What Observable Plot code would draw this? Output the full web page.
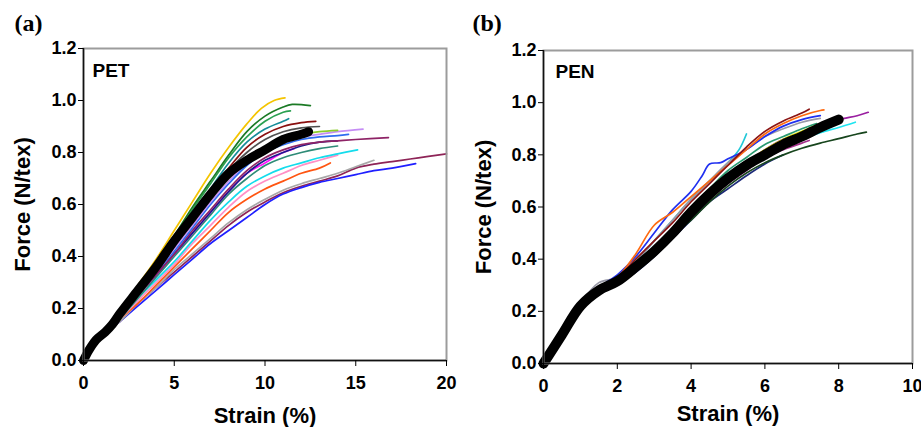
<!DOCTYPE html>
<html>
<head>
<meta charset="utf-8">
<script src="https://cdn.jsdelivr.net/npm/d3@7"></script>
<script src="https://cdn.jsdelivr.net/npm/@observablehq/plot@0.6"></script>
<style>
  body { margin: 0; background: #fff; }
  #wrap { position: relative; width: 921px; height: 427px; }
  #a { position: absolute; left: 0; top: 0; }
  #b { position: absolute; left: 460px; top: 0; }
</style>
</head>
<body>
<div id="wrap"><div id="a"></div><div id="b"></div></div>
<script>
// ---------- Panel (a) PET : [strain %, force N/tex] ----------
const petYellow = [[0,0],[0.3,0.04],[0.7,0.08],[1.2,0.11],[1.6,0.15],[2,0.19],[3,0.29],[4,0.39],[5,0.50],[6,0.61],[7,0.72],[8,0.82],[9,0.91],[9.8,0.97],[10.5,1.0],[11.1,1.01]];
const petDarkGreen = [[0,0],[0.3,0.04],[0.7,0.08],[1.2,0.11],[1.6,0.14],[2,0.18],[3,0.28],[4,0.38],[5,0.48],[6,0.59],[7,0.69],[8,0.79],[9,0.88],[10,0.94],[11,0.975],[11.5,0.985],[12.5,0.98]];
const petGreen = [[0,0],[0.3,0.04],[0.7,0.08],[1.2,0.11],[1.6,0.14],[2,0.18],[3,0.28],[4,0.37],[5,0.47],[6,0.58],[7,0.68],[8,0.78],[9,0.86],[10,0.92],[11,0.955],[11.4,0.96]];
const petTeal = [[0,0],[0.3,0.04],[0.7,0.08],[1.2,0.11],[1.6,0.14],[2,0.18],[3,0.27],[4,0.37],[5,0.46],[6,0.56],[7,0.66],[8,0.76],[9,0.84],[10,0.89],[11,0.92],[11.3,0.93]];
const petDarkRed = [[0,0],[0.3,0.04],[0.7,0.08],[1.2,0.11],[1.6,0.14],[2,0.18],[3,0.27],[4,0.36],[5,0.46],[6,0.55],[7,0.65],[8,0.74],[9,0.82],[10,0.87],[11,0.90],[12,0.915],[12.8,0.92]];
const petDarkGray = [[0,0],[0.3,0.04],[0.7,0.08],[1.2,0.11],[1.6,0.14],[2,0.18],[3,0.27],[4,0.36],[5,0.45],[6,0.55],[7,0.64],[8,0.73],[9,0.80],[10,0.85],[11,0.88],[12,0.895],[13,0.90]];
const petYellowGreen = [[0,0],[0.3,0.04],[0.7,0.08],[1.2,0.11],[1.6,0.14],[2,0.18],[3,0.27],[4,0.35],[5,0.44],[6,0.53],[7,0.62],[8,0.70],[9,0.77],[10,0.82],[11,0.85],[12,0.87],[13,0.88],[14,0.885]];
const petViolet = [[0,0],[0.3,0.04],[0.7,0.08],[1.2,0.11],[1.6,0.14],[2,0.17],[3,0.26],[4,0.34],[5,0.43],[6,0.52],[7,0.61],[8,0.69],[9,0.76],[10,0.81],[11,0.84],[12,0.86],[13,0.87],[14,0.88],[15.4,0.89]];
const petRoyalBlue = [[0,0],[0.3,0.04],[0.7,0.08],[1.2,0.11],[1.6,0.14],[2,0.17],[3,0.26],[4,0.34],[5,0.42],[6,0.51],[7,0.60],[8,0.68],[9,0.75],[10,0.80],[11,0.83],[12,0.85],[13,0.86],[14,0.865],[14.6,0.87]];
const petPlum = [[0,0],[0.3,0.04],[0.7,0.08],[1.2,0.11],[1.6,0.14],[2,0.17],[3,0.25],[4,0.33],[5,0.41],[6,0.50],[7,0.58],[8,0.66],[9,0.73],[10,0.78],[11,0.81],[12,0.83],[13,0.84],[14,0.845],[15,0.85],[16.8,0.857]];
const petNavy = [[0,0],[0.3,0.04],[0.7,0.08],[1.2,0.11],[1.6,0.14],[2,0.17],[3,0.25],[4,0.33],[5,0.41],[6,0.49],[7,0.57],[8,0.65],[9,0.72],[10,0.77],[11,0.80],[12,0.825],[13,0.84],[14,0.845]];
const petSeaGreen = [[0,0],[0.3,0.04],[0.7,0.08],[1.2,0.11],[1.6,0.13],[2,0.16],[3,0.24],[4,0.32],[5,0.40],[6,0.48],[7,0.56],[8,0.64],[9,0.70],[10,0.75],[11,0.78],[12,0.80],[13,0.815],[14,0.825]];
const petMagenta = [[0,0],[0.3,0.04],[0.7,0.08],[1.2,0.11],[1.6,0.14],[2,0.17],[3,0.25],[4,0.33],[5,0.41],[6,0.49],[7,0.57],[8,0.65],[9,0.72],[10,0.76],[11,0.80],[11.6,0.815]];
const petCyan = [[0,0],[0.3,0.04],[0.7,0.08],[1.2,0.11],[1.6,0.13],[2,0.16],[3,0.24],[4,0.31],[5,0.38],[6,0.46],[7,0.54],[8,0.61],[9,0.67],[10,0.71],[11,0.74],[12,0.76],[13,0.78],[14,0.795],[15.1,0.81]];
const petPink = [[0,0],[0.3,0.04],[0.7,0.08],[1.2,0.11],[1.6,0.13],[2,0.16],[3,0.23],[4,0.30],[5,0.37],[6,0.45],[7,0.52],[8,0.59],[9,0.65],[10,0.69],[11,0.72],[12,0.75],[13,0.77],[14,0.79]];
const petOrange = [[0,0],[0.3,0.04],[0.7,0.08],[1.2,0.11],[1.6,0.13],[2,0.16],[3,0.22],[4,0.29],[5,0.36],[6,0.43],[7,0.50],[8,0.57],[9,0.62],[10,0.66],[11,0.69],[12,0.72],[13,0.74],[13.6,0.76]];
const petLightGray = [[0,0],[0.3,0.04],[0.7,0.08],[1.2,0.11],[1.6,0.13],[2,0.15],[3,0.22],[4,0.28],[5,0.35],[6,0.41],[7,0.47],[8,0.53],[9,0.58],[10,0.62],[11,0.655],[12,0.68],[13,0.70],[14,0.72],[15,0.745],[16,0.77]];
const petMaroon = [[0,0],[0.3,0.04],[0.7,0.08],[1.2,0.11],[1.6,0.13],[2,0.15],[3,0.22],[4,0.28],[5,0.34],[6,0.40],[7,0.46],[8,0.52],[9,0.57],[10,0.61],[11,0.645],[12,0.67],[13,0.69],[14,0.71],[15,0.74],[16,0.755],[17,0.765],[18,0.775],[19,0.785],[20,0.795]];
const petBlue = [[0,0],[0.3,0.04],[0.7,0.08],[1.2,0.10],[1.6,0.13],[2,0.15],[3,0.21],[4,0.27],[5,0.33],[6,0.39],[7,0.45],[8,0.50],[9,0.55],[10,0.60],[11,0.64],[12,0.665],[13,0.685],[14,0.70],[15,0.715],[16,0.73],[17,0.74],[18.3,0.757]];
const petBlack = [[0,0],[0.3,0.04],[0.7,0.08],[1.2,0.11],[1.6,0.14],[2,0.18],[3,0.27],[4,0.36],[5,0.46],[6,0.55],[7,0.64],[8,0.72],[9,0.77],[10,0.81],[11,0.85],[12,0.87],[12.4,0.88]];

// ---------- Panel (b) PEN ----------
const penDarkRed = [[0,0],[0.5,0.11],[1,0.22],[1.5,0.29],[2,0.33],[2.5,0.40],[3,0.47],[3.5,0.54],[4,0.62],[4.5,0.69],[5,0.76],[5.5,0.83],[6,0.89],[6.5,0.93],[7,0.96],[7.2,0.975]];
const penOrange = [[0,0],[0.5,0.11],[1,0.22],[1.5,0.29],[2,0.33],[2.5,0.42],[3,0.53],[3.5,0.58],[4,0.64],[4.5,0.70],[5,0.76],[5.5,0.82],[6,0.88],[6.5,0.92],[7,0.95],[7.5,0.97],[7.6,0.972]];
const penBlue = [[0,0],[0.5,0.11],[1,0.22],[1.5,0.29],[2,0.34],[2.5,0.41],[3,0.50],[3.5,0.59],[4,0.66],[4.3,0.72],[4.5,0.765],[4.8,0.77],[5,0.785],[5.5,0.82],[6,0.87],[6.5,0.91],[7,0.935],[7.5,0.95]];
const penGray = [[0,0],[0.5,0.11],[1,0.23],[1.5,0.31],[2,0.33],[2.5,0.39],[3,0.47],[3.5,0.55],[4,0.63],[4.5,0.70],[5,0.77],[5.5,0.82],[6,0.87],[6.5,0.90],[7,0.925],[7.5,0.94]];
const penCyanShort = [[0,0],[0.5,0.11],[1,0.22],[1.5,0.29],[2,0.32],[2.5,0.39],[3,0.47],[3.5,0.55],[4,0.63],[4.5,0.70],[5,0.77],[5.3,0.82],[5.5,0.88]];
const penPurple = [[0,0],[0.5,0.11],[1,0.22],[1.5,0.29],[2,0.32],[2.5,0.38],[3,0.44],[3.5,0.51],[4,0.58],[4.5,0.65],[5,0.71],[5.5,0.77],[6,0.82],[6.5,0.86],[7,0.88],[7.5,0.91],[8,0.935],[8.5,0.95],[8.8,0.963]];
const penYellow = [[0,0],[0.5,0.11],[1,0.22],[1.5,0.29],[2,0.32],[2.5,0.38],[3,0.44],[3.5,0.51],[4,0.59],[4.5,0.66],[5,0.72],[5.5,0.77],[6,0.82],[6.5,0.86],[7,0.89],[7.5,0.92],[8,0.945]];
const penCyan = [[0,0],[0.5,0.11],[1,0.22],[1.5,0.29],[2,0.32],[2.5,0.37],[3,0.43],[3.5,0.50],[4,0.57],[4.5,0.64],[5,0.70],[5.5,0.75],[6,0.80],[6.5,0.83],[7,0.86],[7.5,0.885],[8,0.905],[8.45,0.925]];
const penDarkGreen = [[0,0],[0.5,0.11],[1,0.22],[1.5,0.28],[2,0.31],[2.5,0.36],[3,0.42],[3.5,0.49],[4,0.55],[4.5,0.62],[5,0.68],[5.5,0.73],[6,0.77],[6.5,0.80],[7,0.825],[7.5,0.845],[8,0.862],[8.5,0.88],[8.75,0.887]];
const penNavy = [[0,0],[0.5,0.11],[1,0.22],[1.5,0.28],[2,0.31],[2.5,0.35],[3,0.41],[3.5,0.48],[4,0.55],[4.5,0.62],[5,0.67],[5.5,0.72],[6,0.765],[6.5,0.80]];
const penMagenta = [[0,0],[0.5,0.11],[1,0.22],[1.5,0.28],[2,0.31],[2.5,0.36],[3,0.42],[3.5,0.49],[4,0.56],[4.5,0.63],[5,0.69],[5.5,0.74],[6,0.79],[6.5,0.82],[7,0.845],[7.2,0.855]];
const penYellowLow = [[0,0],[0.5,0.11],[1,0.22],[1.5,0.28],[2,0.31],[2.5,0.36],[3,0.42],[3.5,0.49],[4,0.56],[4.5,0.64],[5,0.71],[5.5,0.76],[6,0.80],[6.6,0.84]];
const penTeal = [[0,0],[0.5,0.11],[1,0.22],[1.5,0.28],[2,0.31],[2.5,0.37],[3,0.44],[3.5,0.52],[4,0.60],[4.5,0.67],[5,0.74],[5.5,0.79],[6,0.84],[6.5,0.87],[7,0.90],[7.4,0.92]];
const penBlack = [[0,0],[0.5,0.11],[1,0.22],[1.5,0.28],[2,0.315],[2.5,0.37],[3,0.43],[3.5,0.50],[4,0.58],[4.5,0.65],[5,0.71],[5.5,0.76],[6,0.80],[6.5,0.84],[7,0.87],[7.5,0.905],[8,0.935]];

// tick values
const petXTicks = [0, 5, 10, 15, 20];
const penXTicks = [0, 2, 4, 6, 8, 10];
const forceTicks = [0, 0.2, 0.4, 0.6, 0.8, 1.0, 1.2];

// ---------- styling (not data) ----------
const petSeries = [
  [petMaroon, "#8e2457"], [petBlue, "#1f1fff"], [petLightGray, "#a8a8a8"], [petOrange, "#ff5511"],
  [petPink, "#ff8fc6"], [petCyan, "#14dcec"], [petSeaGreen, "#2e8b77"], [petMagenta, "#ff10ff"],
  [petNavy, "#1c1c8c"], [petPlum, "#8e2366"], [petRoyalBlue, "#2f6cf0"], [petViolet, "#c58df5"],
  [petYellowGreen, "#8ccc2c"], [petDarkGray, "#505050"], [petDarkRed, "#8a1010"], [petTeal, "#168c9a"],
  [petGreen, "#2aa050"], [petDarkGreen, "#1b7a25"], [petYellow, "#f4c400"]
];
const penSeries = [
  [penNavy, "#1d2a78"], [penDarkGreen, "#17451d"], [penYellowLow, "#f0d000"], [penMagenta, "#a5308c"],
  [penCyan, "#20e5f0"], [penPurple, "#9a1fa0"], [penYellow, "#e8e800"], [penTeal, "#2a9a70"],
  [penCyanShort, "#22c8d8"], [penGray, "#9a9aa8"], [penBlue, "#2030f0"], [penOrange, "#ff6a10"],
  [penDarkRed, "#8a1414"]
];

function toRows(series) {
  const rows = [];
  series.forEach(([pts, color], i) => pts.forEach(([s, f]) => rows.push({id: i, strain: s, force: f, color})));
  return rows;
}
function rowsOf(pts) { return pts.map(([s, f]) => ({strain: s, force: f})); }

const font = "Liberation Sans, Arial, sans-serif";

function panel({width, margins, xMax, xTicks, series, black, blackWidth, tag, name, ylabDx, xlabDy, tagDx, tagDy, nameDx, nameDy}) {
  return Plot.plot({
    width, height: 427,
    marginLeft: margins[0], marginRight: margins[1], marginTop: margins[2], marginBottom: margins[3],
    style: {fontFamily: font, fontWeight: "bold", fontSize: "18px", color: "#000", background: "#fff", overflow: "visible"},
    x: {domain: [0, xMax]},
    y: {domain: [0, 1.2]},
    color: {type: "identity"},
    marks: [
      Plot.line(toRows(series), {x: "strain", y: "force", z: "id", stroke: "color", strokeWidth: 1.7, curve: "catmull-rom"}),
      Plot.line(rowsOf(black), {x: "strain", y: "force", stroke: "#000", strokeWidth: blackWidth, curve: "catmull-rom", strokeLinecap: "round"}),
      Plot.frame({stroke: "#9c9c9c", strokeWidth: 2}),
      Plot.ruleX([0], {stroke: "#111", strokeWidth: 1.5}),
      Plot.ruleY([0], {stroke: "#111", strokeWidth: 1.5}),
      Plot.axisX({ticks: xTicks, tickSize: 6, tickPadding: 10, label: null, fontSize: 18, fontWeight: "bold", tickFormat: d => String(d)}),
      Plot.axisY({ticks: forceTicks, tickSize: 5, tickPadding: 2, label: null, fontSize: 18, fontWeight: "bold", tickFormat: d => d.toFixed(1)}),
      Plot.text(["Force (N/tex)"], {frameAnchor: "left", dx: ylabDx, rotate: -90, fontSize: 22, fontWeight: "bold", textAnchor: "middle", lineAnchor: "middle"}),
      Plot.text(["Strain (%)"], {frameAnchor: "bottom", dy: xlabDy, fontSize: 22, fontWeight: "bold", textAnchor: "middle", lineAnchor: "middle"}),
      Plot.text([tag], {frameAnchor: "top-left", dx: tagDx, dy: tagDy, fontSize: 24, fontWeight: "bold", fontFamily: "Liberation Serif, Times New Roman, serif", textAnchor: "start", lineAnchor: "middle"}),
      Plot.text([name], {frameAnchor: "top-left", dx: nameDx, dy: nameDy, fontSize: 19, fontWeight: "bold", textAnchor: "start", lineAnchor: "middle"})
    ]
  });
}

document.getElementById("a").appendChild(panel({
  width: 460, margins: [83, 14, 48, 67], xMax: 20, xTicks: petXTicks,
  series: petSeries, black: petBlack, blackWidth: 9, tag: "(a)", name: "PET",
  ylabDx: -61, xlabDy: 55, tagDx: -69, tagDy: -25, nameDx: 9, nameDy: 22
}));
document.getElementById("b").appendChild(panel({
  width: 461, margins: [83, 9, 50, 64], xMax: 10, xTicks: penXTicks,
  series: penSeries, black: penBlack, blackWidth: 10, tag: "(b)", name: "PEN",
  ylabDx: -60, xlabDy: 50, tagDx: -71, tagDy: -27, nameDx: 12, nameDy: 21
}));
</script>
</body>
</html>
